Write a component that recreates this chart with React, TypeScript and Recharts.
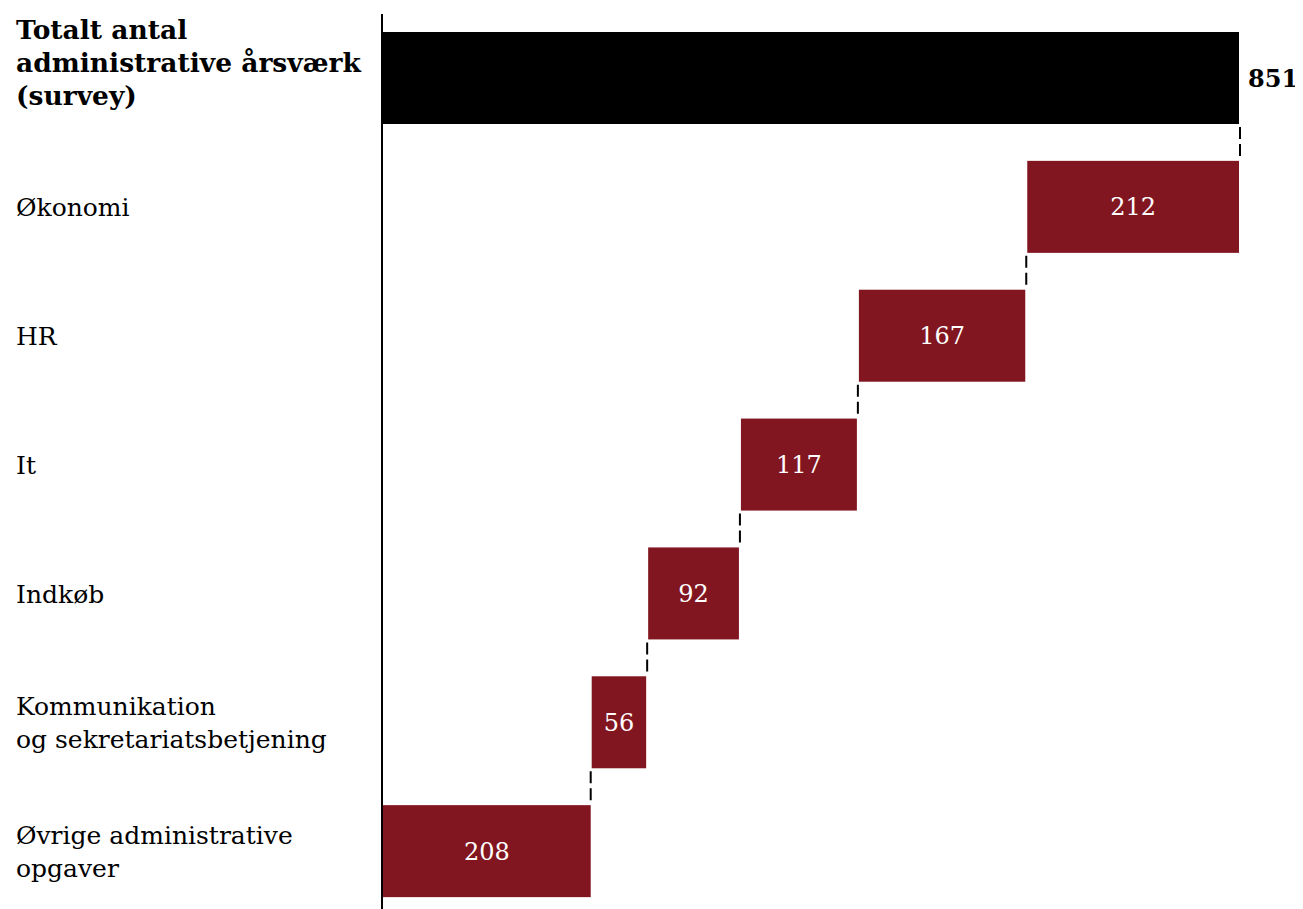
import { Bar, BarChart, LabelList, XAxis, YAxis } from "recharts";

const categories = [
  "Totalt antal\nadministrative årsværk\n(survey)",
  "Økonomi",
  "HR",
  "It",
  "Indkøb",
  "Kommunikation\nog sekretariatsbetjening",
  "Øvrige administrative\nopgaver",
];
const values = [851, 212, 167, 117, 92, 56, 208];

const FONT = "'DejaVu Serif', serif";
const BAR_RED = "#821620";
const CHART_W = 1295;
const CHART_H = 908;
const MARGIN = { top: 6, right: 63, bottom: 0, left: 0 };
const BAR_SIZE = 92;
const BAND = (CHART_H - MARGIN.top - MARGIN.bottom) / categories.length;

// waterfall: each step hangs off the remainder of the one above it
let remaining = values[0];
const data = categories.map((name, i) => {
  if (i === 0) return { name, base: 0, value: values[0], total: true };
  remaining -= values[i];
  return { name, base: Math.max(remaining, 0), value: values[i], total: false };
});

function CategoryTick({ y, payload, index }: any) {
  const lines = String(payload?.value ?? "").split("\n");
  const isTotal = index === 0;
  const lineH = 33;
  const offset = isTotal ? -16 : 0;
  return (
    <text
      x={8}
      y={y}
      textAnchor="start"
      fontFamily={FONT}
      fontSize={isTotal ? 26.5 : 25}
      fontWeight={isTotal ? 700 : 400}
      fill="#000"
    >
      {lines.map((line, i) => (
        <tspan key={i} x={8} y={y + offset + (i - (lines.length - 1) / 2) * lineH} dy="0.36em">
          {line}
        </tspan>
      ))}
    </text>
  );
}

function StepShape(props: any) {
  const { x, y, width, height, index, payload } = props;
  const last = index === categories.length - 1;
  const gap = BAND - BAR_SIZE;
  const cx = payload?.total ? x + width : x;
  return (
    <g>
      <rect
        x={x + 1}
        y={y}
        width={Math.max(width - 2, 0)}
        height={height}
        fill={payload?.total ? "#000" : BAR_RED}
      />
      {!last && (
        <line
          x1={cx}
          x2={cx}
          y1={y + height + 3}
          y2={y + height + gap - 3}
          stroke="#000"
          strokeWidth={2}
          strokeDasharray="12 5"
        />
      )}
    </g>
  );
}

function ValueLabel(props: any) {
  const { x, y, width, height, value, index } = props;
  if (index === 0) {
    return (
      <text
        x={x + width + 8}
        y={y + height / 2}
        dy="0.36em"
        textAnchor="start"
        fontFamily={FONT}
        fontSize={24}
        fontWeight={700}
        fill="#000"
      >
        {value}
      </text>
    );
  }
  return (
    <text
      x={x + width / 2}
      y={y + height / 2}
      dy="0.36em"
      textAnchor="middle"
      fontFamily={FONT}
      fontSize={24}
      fill="#fff"
    >
      {value}
    </text>
  );
}

export default function App() {
  return (
    <div style={{ width: CHART_W, height: 901 }}>
      <style>{`html,body{overflow:hidden}.recharts-surface{overflow:visible}`}</style>
      <BarChart
        width={CHART_W}
        height={CHART_H}
        data={data}
        layout="vertical"
        margin={MARGIN}
        barSize={BAR_SIZE}
      >
        <XAxis type="number" domain={[0, values[0]]} hide />
        <YAxis
          type="category"
          dataKey="name"
          width={374}
          axisLine={{ stroke: "#000", strokeWidth: 2 }}
          tickLine={false}
          tick={<CategoryTick />}
          interval={0}
        />
        <Bar dataKey="base" stackId="w" fill="transparent" isAnimationActive={false} />
        <Bar dataKey="value" stackId="w" shape={<StepShape />} isAnimationActive={false}>
          <LabelList dataKey="value" content={<ValueLabel />} />
        </Bar>
      </BarChart>
    </div>
  );
}
